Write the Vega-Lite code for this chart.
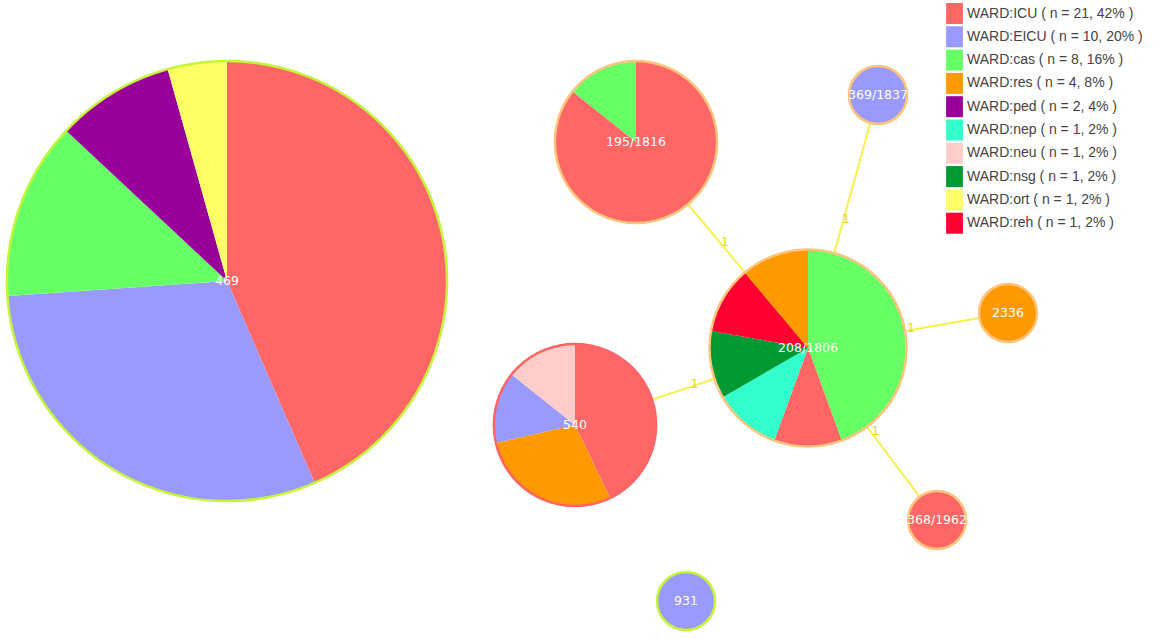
{
  "$schema": "https://vega.github.io/schema/vega-lite/v6.json",
  "width": 1170,
  "height": 638,
  "autosize": "none",
  "padding": 0,
  "background": "white",
  "config": {"view": {"stroke": null}},
  "datasets": {
    "nodes": [
      {"node": "469", "x": 227, "y": 281, "n": 23, "group": "A"},
      {"node": "195/1816", "x": 636, "y": 142, "n": 7, "group": "B"},
      {"node": "208/1806", "x": 808, "y": 348, "n": 9, "group": "B"},
      {"node": "540", "x": 575, "y": 425, "n": 7, "group": "C"},
      {"node": "369/1837", "x": 878, "y": 95, "n": 1, "group": "B"},
      {"node": "2336", "x": 1008, "y": 313, "n": 1, "group": "B"},
      {"node": "368/1962", "x": 937, "y": 520, "n": 1, "group": "B"},
      {"node": "931", "x": 686, "y": 601, "n": 1, "group": "A"}
    ],
    "slices": [
      {"node": "469", "ward": "ICU", "count": 10},
      {"node": "469", "ward": "EICU", "count": 7},
      {"node": "469", "ward": "cas", "count": 3},
      {"node": "469", "ward": "ped", "count": 2},
      {"node": "469", "ward": "ort", "count": 1},
      {"node": "195/1816", "ward": "ICU", "count": 6},
      {"node": "195/1816", "ward": "cas", "count": 1},
      {"node": "208/1806", "ward": "cas", "count": 4},
      {"node": "208/1806", "ward": "ICU", "count": 1},
      {"node": "208/1806", "ward": "nep", "count": 1},
      {"node": "208/1806", "ward": "nsg", "count": 1},
      {"node": "208/1806", "ward": "reh", "count": 1},
      {"node": "208/1806", "ward": "res", "count": 1},
      {"node": "540", "ward": "ICU", "count": 3},
      {"node": "540", "ward": "res", "count": 2},
      {"node": "540", "ward": "EICU", "count": 1},
      {"node": "540", "ward": "neu", "count": 1},
      {"node": "369/1837", "ward": "EICU", "count": 1},
      {"node": "2336", "ward": "res", "count": 1},
      {"node": "368/1962", "ward": "ICU", "count": 1},
      {"node": "931", "ward": "EICU", "count": 1}
    ],
    "edges": [
      {"edge": "e1", "node": "208/1806", "weight": 1},
      {"edge": "e1", "node": "195/1816", "weight": 1},
      {"edge": "e2", "node": "208/1806", "weight": 1},
      {"edge": "e2", "node": "369/1837", "weight": 1},
      {"edge": "e3", "node": "208/1806", "weight": 1},
      {"edge": "e3", "node": "2336", "weight": 1},
      {"edge": "e4", "node": "208/1806", "weight": 1},
      {"edge": "e4", "node": "368/1962", "weight": 1},
      {"edge": "e5", "node": "208/1806", "weight": 1},
      {"edge": "e5", "node": "540", "weight": 1}
    ]
  },
  "layer": [
    {
      "data": {"name": "edges"},
      "transform": [
        {"lookup": "node", "from": {"data": {"name": "nodes"}, "key": "node", "fields": ["x", "y"]}}
      ],
      "mark": {"type": "line", "color": "#f8f04c", "strokeWidth": 2},
      "encoding": {
        "x": {"field": "x", "type": "quantitative", "scale": {"domain": [0, 1170], "nice": false, "zero": false}, "axis": null},
        "y": {"field": "y", "type": "quantitative", "scale": {"domain": [0, 638], "nice": false, "zero": false, "reverse": true}, "axis": null},
        "detail": {"field": "edge", "type": "nominal"}
      }
    },
    {
      "data": {"name": "edges"},
      "transform": [
        {"lookup": "node", "from": {"data": {"name": "nodes"}, "key": "node", "fields": ["x", "y"]}}
      ],
      "mark": {"type": "text", "color": "#e6da0c", "fontSize": 13, "font": "DejaVu Sans", "baseline": "middle", "align": "center", "dx": 3, "dy": -3},
      "encoding": {
        "x": {"aggregate": "mean", "field": "x", "type": "quantitative"},
        "y": {"aggregate": "mean", "field": "y", "type": "quantitative"},
        "detail": {"field": "edge", "type": "nominal"},
        "text": {"field": "weight", "type": "nominal"}
      }
    },
    {
      "data": {"name": "slices"},
      "transform": [
        {
          "stack": "count",
          "groupby": ["node"],
          "sort": [{"field": "count", "order": "descending"}, {"field": "ward", "order": "ascending"}],
          "offset": "normalize",
          "as": ["t0", "t1"]
        },
        {"lookup": "node", "from": {"data": {"name": "nodes"}, "key": "node", "fields": ["x", "y", "n"]}}
      ],
      "mark": {"type": "arc"},
      "encoding": {
        "x": {"field": "x", "type": "quantitative"},
        "y": {"field": "y", "type": "quantitative"},
        "theta": {"field": "t0", "type": "quantitative", "scale": {"domain": [0, 1], "range": [0, 6.283185], "zero": false, "nice": false}},
        "theta2": {"field": "t1"},
        "radius": {"field": "n", "type": "quantitative", "stack": null, "scale": {"type": "linear", "domain": [1, 23], "range": [29, 220], "zero": false, "nice": false}},
        "radius2": {"value": 0},
        "color": {
          "field": "ward",
          "type": "nominal",
          "scale": {
            "domain": ["ICU", "EICU", "cas", "res", "ped", "nep", "neu", "nsg", "ort", "reh"],
            "range": ["#ff6666", "#9999ff", "#66ff66", "#ff9900", "#990099", "#33ffcc", "#ffcccc", "#009933", "#ffff66", "#ff0033"]
          },
          "legend": {
            "orient": "none",
            "legendX": 944,
            "legendY": 3,
            "title": null,
            "symbolType": "M-0.8,-1H0.8V1H-0.8Z",
            "symbolSize": 441,
            "symbolStrokeWidth": 0,
            "symbolOpacity": 1,
            "rowPadding": 2.3,
            "labelOffset": 2,
            "labelFont": "Liberation Sans",
            "labelFontSize": 14,
            "labelColor": "#444444",
            "labelLimit": 300,
            "labelExpr": "'WARD:' + datum.label + ' ( n = ' + ({'ICU': '21, 42%', 'EICU': '10, 20%', 'cas': '8, 16%', 'res': '4, 8%', 'ped': '2, 4%', 'nep': '1, 2%', 'neu': '1, 2%', 'nsg': '1, 2%', 'ort': '1, 2%', 'reh': '1, 2%'})[datum.label] + ' )'"
          }
        }
      }
    },
    {
      "data": {"name": "nodes"},
      "mark": {"type": "arc", "fillOpacity": 0, "strokeWidth": 2.5},
      "encoding": {
        "x": {"field": "x", "type": "quantitative"},
        "y": {"field": "y", "type": "quantitative"},
        "theta": {"datum": 0, "type": "quantitative"},
        "theta2": {"datum": 1},
        "radius": {"field": "n", "type": "quantitative", "stack": null},
        "radius2": {"field": "n"},
        "stroke": {
          "field": "group",
          "type": "nominal",
          "scale": {"domain": ["A", "B", "C"], "range": ["#c4f53a", "#ffc47c", "#ff6464"]},
          "legend": null
        }
      }
    },
    {
      "data": {"name": "nodes"},
      "mark": {"type": "text", "color": "white", "font": "DejaVu Sans", "fontSize": 12.5, "align": "center", "baseline": "middle"},
      "encoding": {
        "x": {"field": "x", "type": "quantitative"},
        "y": {"field": "y", "type": "quantitative"},
        "text": {"field": "node", "type": "nominal"}
      }
    }
  ]
}
